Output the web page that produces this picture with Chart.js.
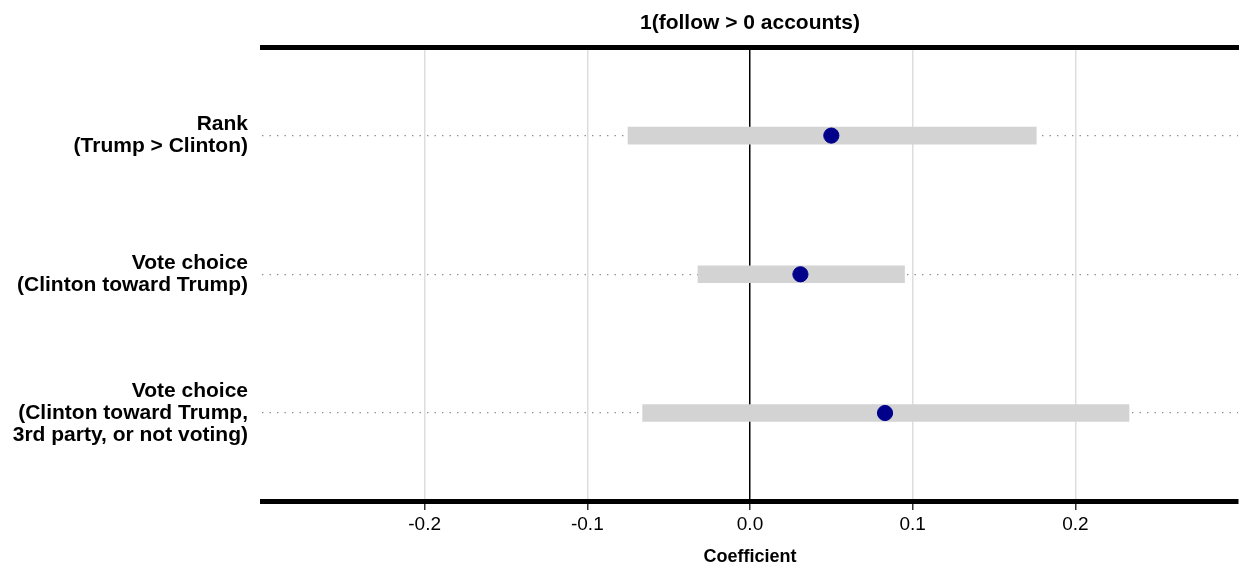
<!DOCTYPE html>
<html>
<head>
<meta charset="utf-8">
<script src="https://cdn.jsdelivr.net/npm/chart.js@4"></script>
<style>
  body { margin: 0; background: #fff; }
  #wrap { width: 1239px; height: 570px; }
</style>
</head>
<body>
<div id="wrap"><canvas id="myChart"></canvas></div>
<script>
const categories = [
    ["Rank", "(Trump > Clinton)"],
    ["Vote choice", "(Clinton toward Trump)"],
    ["Vote choice", "(Clinton toward Trump,", "3rd party, or not voting)"]
];
const estimates = [0.050, 0.031, 0.083];
const lower = [-0.075, -0.032, -0.066];
const upper = [0.176, 0.095, 0.233];
const xTicks = [-0.2, -0.1, 0, 0.1, 0.2];
const chartTitle = "1(follow > 0 accounts)";
const xTitle = "Coefficient";

const font = "'Liberation Sans', Arial, Helvetica, sans-serif";

function noSidePadding(s) {
    s.paddingLeft = 0;
    s.paddingRight = 0;
}

const config = {
    type: 'scatter',
    data: {
        datasets: [{
            type: 'scatter',
            data: estimates.map((v, i) => ({ x: v, y: i + 1 })),
            backgroundColor: '#00008B',
            borderColor: '#00008B',
            pointRadius: 7.6,
            pointHoverRadius: 7.6,
            order: 0
        }, {
            type: 'bar',
            indexAxis: 'y',
            data: lower.map((lo, i) => ({ x: [lo, upper[i]], y: i + 1 })),
            backgroundColor: '#D3D3D3',
            borderWidth: 0,
            barThickness: 17,
            order: 1
        }]
    },
    options: {
        responsive: true,
        maintainAspectRatio: false,
        animation: false,
        layout: { autoPadding: false, padding: { right: 1 } },
        plugins: {
            legend: { display: false },
            tooltip: { enabled: false }
        },
        scales: {
            // top axis only carries the title and the thick top rule
            x2: {
                type: 'linear',
                position: 'top',
                min: -0.3,
                max: 0.3,
                offset: false,
                afterFit: s => { s.height = 44; noSidePadding(s); },
                ticks: { display: false },
                grid: { display: false, drawTicks: false },
                border: { display: true, color: '#000', width: 5 },
                title: {
                    display: true,
                    text: chartTitle,
                    color: '#000',
                    font: { family: font, size: 21, weight: 'bold' },
                    padding: { top: 7.9, bottom: 0 }
                }
            },
            x: {
                type: 'linear',
                position: 'bottom',
                min: -0.3,
                max: 0.3,
                offset: false,
                afterBuildTicks: s => { s.ticks = xTicks.map(v => ({ value: v })); },
                afterFit: s => { s.height = 68.5; noSidePadding(s); },
                ticks: {
                    color: '#000',
                    font: { family: font, size: 19 },
                    padding: 3,
                    callback: v => v.toFixed(1)
                },
                grid: {
                    offset: false,
                    color: c => c.tick && c.tick.value === 0 ? '#000' : '#dddddd',
                    lineWidth: 1.5,
                    tickColor: '#333',
                    tickLength: 8.5,
                    tickWidth: 1.5
                },
                border: { display: true, color: '#000', width: 5 },
                title: {
                    display: true,
                    text: xTitle,
                    color: '#000',
                    font: { family: font, size: 18, weight: 'bold' },
                    padding: { top: 0, bottom: 2.2 }
                }
            },
            y: {
                type: 'linear',
                reverse: true,
                min: 0.362,
                max: 3.638,
                offset: false,
                afterBuildTicks: s => { s.ticks = categories.map((c, i) => ({ value: i + 1 })); },
                afterFit: s => { s.width = 262; },
                ticks: {
                    color: '#000',
                    font: { family: font, size: 21, weight: 'bold', lineHeight: 1.05 },
                    padding: 14,
                    callback: v => categories[v - 1]
                },
                grid: {
                    offset: false,
                    color: '#8c8c8c',
                    lineWidth: 1.3,
                    drawTicks: false
                },
                border: { display: false, dash: [1.4, 6.1] }
            }
        }
    }
};

new Chart(document.getElementById('myChart'), config);
</script>
</body>
</html>
